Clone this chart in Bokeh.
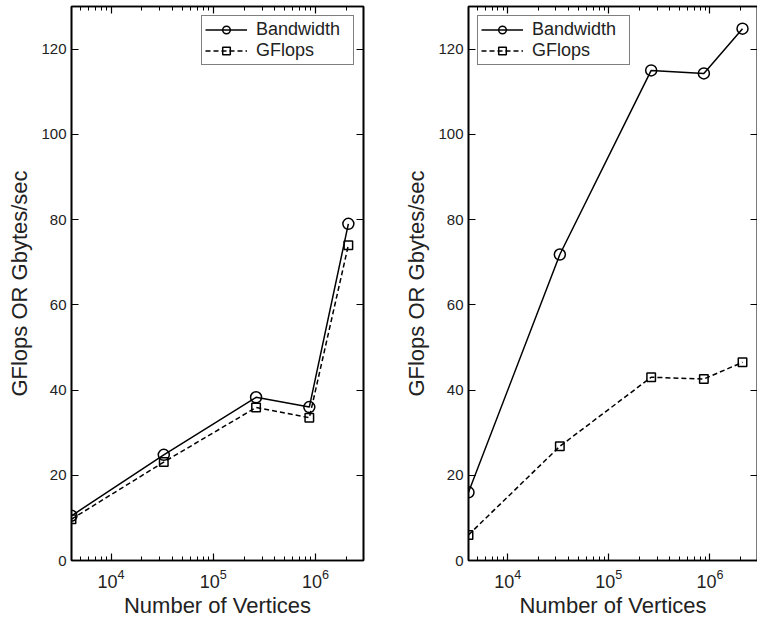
from bokeh.plotting import figure
from bokeh.models import (LinearAxis, Range1d, Legend, LegendItem, FixedTicker,
                          CustomLabelingPolicy)
from bokeh.layouts import row
from bokeh.embed import file_html
from bokeh.resources import INLINE

# ---- data ----
vertices = [4096, 32768, 262144, 870000, 2097152]
left_bandwidth = [10.5, 24.8, 38.3, 36.0, 79.0]
left_gflops = [9.7, 23.1, 35.9, 33.5, 74.0]
right_bandwidth = [16.0, 71.8, 115.0, 114.3, 124.8]
right_gflops = [6.0, 26.8, 43.0, 42.6, 46.5]
y_ticks = [0, 20, 40, 60, 80, 100, 120]
x_ticks = [1e4, 1e5, 1e6]
x_minor = [k * 10 ** e for e in (3, 4, 5, 6) for k in range(2, 10)]
x_label = "Number of Vertices"
y_label = "GFlops OR Gbytes/sec"
series_names = ["Bandwidth", "GFlops"]

FONT = "Liberation Sans"


def style_axis(ax, show_labels=True):
    ax.axis_line_width = 1.6
    ax.axis_line_color = "black"
    ax.major_tick_in = 7
    ax.major_tick_out = 0
    ax.minor_tick_in = 4
    ax.minor_tick_out = 0
    ax.major_tick_line_width = 1.2
    ax.minor_tick_line_width = 1.0
    ax.major_label_text_font = FONT
    ax.major_label_text_color = "#222222"
    ax.axis_label_text_font = FONT
    ax.axis_label_text_font_style = "normal"
    ax.axis_label_text_color = "#222222"
    if not show_labels:
        ax.major_label_policy = CustomLabelingPolicy(code="return new Set()")
        ax.major_label_text_font_size = "1px"
        ax.major_label_standoff = 0


def make_plot(bw, gf, legend_loc, border_left, border_right, frame_w):
    p = figure(
        x_axis_type="log",
        frame_width=frame_w,
        frame_height=554,
        min_border_left=border_left,
        min_border_right=border_right,
        min_border_top=6,
        min_border_bottom=63,
        x_range=Range1d(4096, 2.95e6),
        y_range=Range1d(0, 130),
        output_backend="svg",
        toolbar_location=None,
    )
    p.xgrid.grid_line_color = None
    p.ygrid.grid_line_color = None
    p.outline_line_color = "black"
    p.outline_line_width = 1.6

    xa = p.xaxis[0]
    style_axis(xa)
    xa.ticker = FixedTicker(ticks=x_ticks, minor_ticks=x_minor)
    xa.axis_label = x_label
    xa.axis_label_text_font_size = "22px"
    xa.major_label_text_font_size = "18px"
    xa.major_label_standoff = 8
    xa.axis_label_standoff = 2

    ya = p.yaxis[0]
    style_axis(ya)
    ya.ticker = FixedTicker(ticks=y_ticks, minor_ticks=[])
    ya.axis_label = y_label
    ya.axis_label_text_font_size = "22px"
    ya.major_label_text_font_size = "15px"
    ya.major_label_standoff = 5
    ya.axis_label_standoff = 6

    top = LinearAxis(ticker=FixedTicker(ticks=x_ticks, minor_ticks=x_minor))
    style_axis(top, show_labels=False)
    p.add_layout(top, "above")
    right = LinearAxis(ticker=FixedTicker(ticks=y_ticks, minor_ticks=[]))
    style_axis(right, show_labels=False)
    p.add_layout(right, "right")

    l1 = p.line(vertices, bw, line_color="black", line_width=1.5)
    m1 = p.scatter(vertices, bw, marker="circle", size=11, fill_color=None,
                   line_color="black", line_width=1.5)
    l2 = p.line(vertices, gf, line_color="black", line_width=1.5, line_dash="5 3")
    m2 = p.scatter(vertices, gf, marker="square", size=8.5, fill_color=None,
                   line_color="black", line_width=1.5)

    legend = Legend(
        items=[LegendItem(label=series_names[0], renderers=[l1, m1]),
               LegendItem(label=series_names[1], renderers=[l2, m2])],
        location=legend_loc,
        label_text_font=FONT,
        label_text_font_size="18px",
        label_text_color="#222222",
        label_standoff=9,
        label_width=94,
        border_line_color="black",
        border_line_width=1.5,
        glyph_width=42,
        glyph_height=19,
        label_height=19,
        spacing=0,
        padding=3,
        margin=9,
        background_fill_alpha=1.0,
    )
    p.add_layout(legend, "center")
    return p


p1 = make_plot(left_bandwidth, left_gflops, "top_right", 71, 17, 292)
p2 = make_plot(right_bandwidth, right_gflops, "top_left", 88, 0, 289)

layout = row(p1, p2)
layout.margin = 0

open("out.html", "w").write(file_html(layout, INLINE))
